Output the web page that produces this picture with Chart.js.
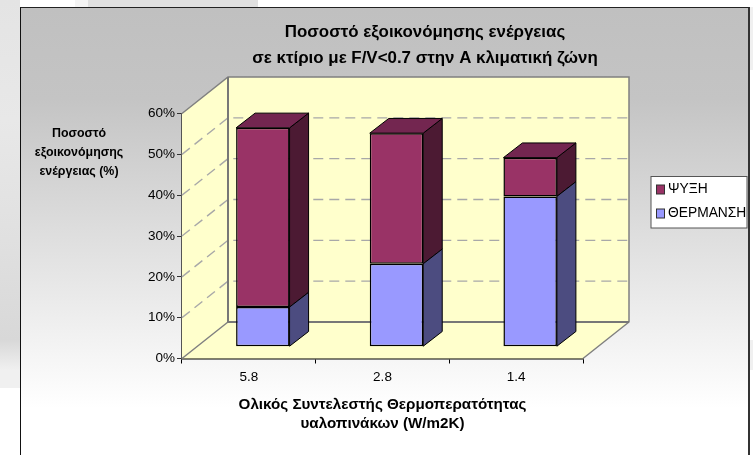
<!DOCTYPE html>
<html lang="el">
<head>
<meta charset="utf-8">
<title>Ποσοστό εξοικονόμησης ενέργειας</title>
<script src="https://cdn.jsdelivr.net/npm/chart.js@4"></script>
<style>
    html, body { margin: 0; padding: 0; width: 753px; height: 455px; overflow: hidden; background: #fff; }
    /* Blocky page behind the chart frame */
    #page {
        position: absolute; left: 0; top: 0; width: 753px; height: 455px;
        background:
            linear-gradient(#e4e4e4 0, #e8e8e8 120px, #e0e0e0 240px, #d8d8d8 340px, #f0f0f0 370px, #f0f0f0 388px, #fff 388px) 0 0 / 20px 100% no-repeat,
            linear-gradient(90deg, #fff 0, #fff 75px, #f4f4f4 75px, #f4f4f4 88px, #e0e0e0 88px, #e0e0e0 258px, #fff 258px) 0 0 / 100% 7px no-repeat,
            linear-gradient(#f0f0f0 0, #f0f0f0 70px, #fff 70px, #fff 340px, #f0f0f0 340px, #f0f0f0 370px, #fff 370px) 749px 0 / 4px 100% no-repeat;
    }
    #frame {
        position: absolute; left: 20px; top: 7px; width: 727px; height: 460px;
        border-left: 1.5px solid #111; border-top: 1.5px solid #222; border-right: 2px solid #333;
        background: linear-gradient(#c0c0c0 0, #c4c4c4 90px, #ffffff 400px);
    }
    #chart { position: absolute; left: 0; top: 0; }
</style>
</head>
<body>
<div id="page"></div>
<div id="frame"></div>
<canvas id="chart" width="753" height="455"></canvas>
<script>
const CATEGORIES = ['5.8', '2.8', '1.4'];
const HEATING = [9.7, 20.3, 36.8];
const COOLING = [43.9, 32.0, 9.5];
const Y_TICKS = [0, 10, 20, 30, 40, 50, 60];

const TITLE_LINES = ['Ποσοστό εξοικονόμησης ενέργειας', 'σε κτίριο με F/V<0.7 στην Α κλιματική ζώνη'];
const X_TITLE_LINES = ['Ολικός Συντελεστής Θερμοπερατότητας', 'υαλοπινάκων (W/m2K)'];
const Y_TITLE_LINES = ['Ποσοστό', 'εξοικονόμησης', 'ενέργειας (%)'];

const FONT = '"Liberation Sans", Arial, sans-serif';

// Fake 3D: depth of the room, depth of a bar, and how far bars sit from the front edge
const ROOM_DEPTH = { x: 46, y: 36.5 };
const BAR_DEPTH = { x: 19, y: 14.7 };
const BAR_SHIFT = { x: 14, y: 11.8 };

const WALL_COLOR = '#ffffcc';
const SIDE_COLORS = { '#9999ff': '#4c4c80', '#993366': '#4c1a33' };
const TOP_COLORS = { '#993366': '#732650', '#9999ff': '#7373bf' };

function poly(ctx, pts, fill, stroke, width) {
    ctx.beginPath();
    pts.forEach((p, i) => i ? ctx.lineTo(p[0], p[1]) : ctx.moveTo(p[0], p[1]));
    ctx.closePath();
    if (fill) { ctx.fillStyle = fill; ctx.fill(); }
    if (stroke) { ctx.strokeStyle = stroke; ctx.lineWidth = width; ctx.stroke(); }
}

// Walls, floor and dashed gridlines behind the bars
const roomPlugin = {
    id: 'room',
    beforeDatasetsDraw(chart) {
        const { ctx, chartArea: a, scales: { y } } = chart;
        const dx = ROOM_DEPTH.x, dy = ROOM_DEPTH.y;
        ctx.save();
        poly(ctx, [[a.left, a.bottom], [a.left, a.top], [a.left + dx, a.top - dy], [a.left + dx, a.bottom - dy]], WALL_COLOR);
        poly(ctx, [[a.left + dx, a.top - dy], [a.right + dx, a.top - dy], [a.right + dx, a.bottom - dy], [a.left + dx, a.bottom - dy]], WALL_COLOR);
        poly(ctx, [[a.left, a.bottom], [a.right, a.bottom], [a.right + dx, a.bottom - dy], [a.left + dx, a.bottom - dy]], WALL_COLOR);

        ctx.strokeStyle = '#a8a8a8';
        ctx.lineWidth = 1.4;
        ctx.setLineDash([10, 6]);
        Y_TICKS.slice(1, -1).forEach(v => {
            const py = y.getPixelForValue(v);
            ctx.beginPath();
            ctx.moveTo(a.left, py);
            ctx.lineTo(a.left + dx, py - dy);
            ctx.lineTo(a.right + dx, py - dy);
            ctx.stroke();
        });
        ctx.setLineDash([]);

        // Room edges
        ctx.strokeStyle = '#808080';
        ctx.lineWidth = 1.5;
        ctx.beginPath();
        ctx.moveTo(a.left, a.top);
        ctx.lineTo(a.left + dx, a.top - dy);
        ctx.lineTo(a.right + dx, a.top - dy);
        ctx.lineTo(a.right + dx, a.bottom - dy);
        ctx.lineTo(a.right, a.bottom);
        ctx.moveTo(a.left, a.bottom);
        ctx.lineTo(a.left + dx, a.bottom - dy);
        ctx.lineTo(a.left + dx, a.top - dy);
        ctx.stroke();
        ctx.lineWidth = 2;
        ctx.strokeStyle = '#777';
        ctx.beginPath();
        ctx.moveTo(a.left + dx, a.top - dy);
        ctx.lineTo(a.left + dx, a.bottom - dy);
        ctx.lineTo(a.right + dx, a.bottom - dy);
        ctx.stroke();
        ctx.restore();
    },
    // Every dataset is pushed back onto the floor; side and top faces come from the same bar geometry
    beforeDatasetDraw(chart, args) {
        const ctx = chart.ctx;
        ctx.save();
        ctx.translate(BAR_SHIFT.x, -BAR_SHIFT.y);
        const color = chart.data.datasets[args.index].backgroundColor;
        const dx = BAR_DEPTH.x, dy = BAR_DEPTH.y;
        args.meta.data.forEach(bar => {
            const { x, y, base, width } = bar.getProps(['x', 'y', 'base', 'width']);
            const r = x + width / 2, l = x - width / 2;
            poly(ctx, [[r, y], [r + dx, y - dy], [r + dx, base - dy], [r, base]], SIDE_COLORS[color], '#000', 1);
            if (args.index === chart.data.datasets.length - 1) {
                poly(ctx, [[l, y], [l + dx, y - dy], [r + dx, y - dy], [r, y]], TOP_COLORS[color], '#000', 1);
            }
        });
    },
    afterDatasetDraw(chart) {
        chart.ctx.restore();
    },
    afterLayout(chart) {
        // Main title is centred over the plot and the wall, not over the whole canvas
        const t = chart.titleBlock;
        const w = t.right - t.left;
        t.left = 425 - w / 2;
        t.right = 425 + w / 2;
    },
    afterDraw(chart) {
        const { ctx } = chart;
        ctx.save();

        // Horizontal value axis caption
        ctx.fillStyle = '#000';
        ctx.font = 'bold 12.4px ' + FONT;
        ctx.textAlign = 'center';
        ctx.textBaseline = 'middle';
        Y_TITLE_LINES.forEach((line, i) => ctx.fillText(line, 79, 134 + i * 19));

        // Legend box, cut off by the frame on the right
        const lx = 651, ly = 176.5, lw = 96, lh = 51.5;
        ctx.fillStyle = '#fff';
        ctx.fillRect(lx, ly, lw, lh);
        ctx.strokeStyle = '#555';
        ctx.lineWidth = 1;
        ctx.strokeRect(lx, ly, lw, lh);
        ctx.beginPath();
        ctx.rect(lx, ly, lw, lh);
        ctx.clip();
        ctx.font = '13.8px ' + FONT;
        ctx.textAlign = 'left';
        chart.data.datasets.slice().reverse().forEach((ds, i) => {
            const cy = 189 + i * 24;
            ctx.fillStyle = ds.backgroundColor;
            ctx.fillRect(656.5, cy - 4, 8, 9);
            ctx.strokeStyle = '#333';
            ctx.lineWidth = 1;
            ctx.strokeRect(656.5, cy - 4, 8, 9);
            ctx.fillStyle = '#000';
            ctx.fillText(ds.label, 668, cy);
        });
        ctx.restore();
    }
};

new Chart(document.getElementById('chart'), {
    type: 'bar',
    plugins: [roomPlugin],
    data: {
        labels: CATEGORIES,
        datasets: [
            { label: 'ΘΕΡΜΑΝΣΗ', data: HEATING, backgroundColor: '#9999ff', borderColor: '#000', borderWidth: 1.5, borderSkipped: false },
            { label: 'ΨΥΞΗ', data: COOLING, backgroundColor: '#993366', borderColor: '#000', borderWidth: 1.5, borderSkipped: false }
        ]
    },
    options: {
        responsive: false,
        animation: false,
        clip: false,
        barPercentage: 0.4,
        categoryPercentage: 1,
        layout: { padding: { left: 122, right: 170, top: 0, bottom: 0 } },
        plugins: {
            legend: { display: false },
            tooltip: { enabled: false },
            title: {
                display: true,
                text: TITLE_LINES,
                color: '#000',
                font: { family: FONT, size: 16.9, weight: 'bold', lineHeight: 26 / 16.9 },
                padding: { top: 19, bottom: 42.5 }
            }
        },
        scales: {
            x: {
                stacked: true,
                afterFit: s => { s.height = 96.5; },
                border: { color: '#000', width: 1.5 },
                grid: { offset: true, drawOnChartArea: false, tickColor: '#000', tickLength: 5 },
                ticks: { color: '#000', font: { family: FONT, size: 13.5 }, padding: 6, maxRotation: 0 },
                title: {
                    display: true,
                    text: X_TITLE_LINES,
                    color: '#000',
                    font: { family: FONT, size: 15.2, weight: 'bold', lineHeight: 19 / 15.2 },
                    padding: { top: 0, bottom: 22 }
                }
            },
            y: {
                stacked: true,
                min: 0,
                max: 60,
                afterFit: s => { s.width = 60; },
                afterBuildTicks: s => { s.ticks = Y_TICKS.map(v => ({ value: v })); },
                border: { color: '#555', width: 1.5 },
                grid: { drawOnChartArea: false, tickColor: '#333', tickLength: 5 },
                ticks: { color: '#000', font: { family: FONT, size: 13.5 }, padding: 2, callback: v => v + '%' }
            }
        }
    }
});
</script>
</body>
</html>
